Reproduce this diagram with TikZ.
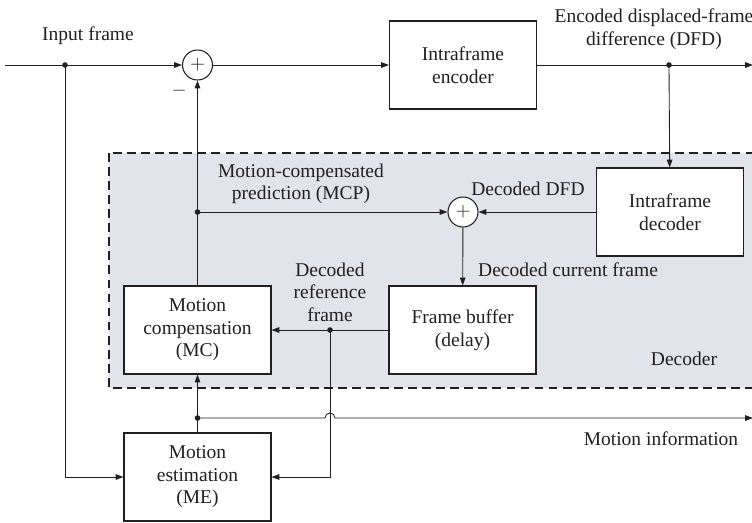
\documentclass[tikz,border=0pt]{standalone}
\usepackage{fontspec}
\setmainfont{Liberation Serif}
\usepackage{tikz}
\usetikzlibrary{arrows.meta}

\definecolor{inkgray}{HTML}{231F20}
\definecolor{decfill}{HTML}{E1E4EA}

\begin{document}
\begin{tikzpicture}[x=0.02cm,y=-0.02cm,
	font=\fontsize{11.1}{12.8}\selectfont, color=inkgray,
	block/.style={rectangle,draw,fill=white,line width=0.6pt,minimum width=2.94cm,minimum height=1.76cm,align=center,inner sep=1pt},
	adder/.style={circle,draw,fill=white,line width=0.6pt,minimum size=0.6cm,inner sep=0pt},
	flow/.style={line width=0.5pt,-{Triangle[length=4.5pt,width=3.2pt]}},
	junc/.style={circle,fill,inner sep=0pt,minimum size=3.2pt}]
	\clip (0,0) rectangle (752,522);

	% decoder region
	\draw[fill=decfill,dash pattern=on 5pt off 3pt,line width=0.9pt] (109,153) rectangle (780,388);
	\node (DecLabel) at (684,359) {Decoder};

	\draw[] (463,65) node[block] (Encoder) {Intraframe\\encoder};
	\draw[] (670,212) node[block] (Decoder) {Intraframe\\decoder};
	\draw[] (462.5,330) node[block] (FrameBuf) {Frame buffer\\(delay)};
	\draw[] (197.5,330) node[block] (MC) {Motion\\compensation\\(MC)};
	\draw[] (197.5,477) node[block] (ME) {Motion\\estimation\\(ME)};
	\draw[] (197.5,65) node[adder] (SumIn) {$+$};
	\draw[] (463,212) node[adder] (SumDec) {$+$};

	\coordinate (InStart) at (5,65);
	\coordinate (InJunc) at (65,65);
	\coordinate (DFDJunc) at (669,65);
	\coordinate (DFDOut) at (753,65);
	\coordinate (MCPJunc) at (197.5,212);
	\coordinate (RefJunc) at (330,330);
	\coordinate (MEJunc) at (197.5,418);
	\coordinate (MIOut) at (753,418);

	\draw[flow] (InStart) -- (SumIn);
	\draw[flow] (SumIn) -- (Encoder);
	\draw[flow] (Encoder) -- (DFDOut);
	\draw[flow] (DFDJunc) -- (Decoder);
	\draw[flow] (Decoder) -- (SumDec);
	\draw[flow] (MCPJunc) -- (SumDec);
	\draw[flow] (MC) -- (SumIn);
	\draw[flow] (SumDec) -- (FrameBuf);
	\draw[flow] (FrameBuf) -- (MC);
	\draw[flow] (InJunc) |- (ME);
	\draw[flow] (RefJunc) |- (ME);
	\draw[flow] (ME) -- (MC);
	\draw[flow] (MEJunc) -- (325,418) arc[start angle=180,end angle=360,radius=5] -- (MIOut);

	\foreach \j in {InJunc,DFDJunc,MCPJunc,RefJunc,MEJunc}
		\node[junc] at (\j) {};

	% labels
	\node (InLabel) at (88,36) {Input frame};
	\node (Minus) at (179,91) {$-$};
	\node[align=center] (DFDLabel) at (654,29) {Encoded displaced-frame\\difference (DFD)};
	\node[align=center] (MCPLabel) at (301,184) {Motion-compensated\\prediction (MCP)};
	\node (DecDFDLabel) at (528,189) {Decoded DFD};
	\node[anchor=west] (CurLabel) at (472,270) {Decoded current frame};
	\node[align=center] (RefLabel) at (330,292) {Decoded\\reference\\frame};
	\node (MILabel) at (661,439) {Motion information};
\end{tikzpicture}
\end{document}
